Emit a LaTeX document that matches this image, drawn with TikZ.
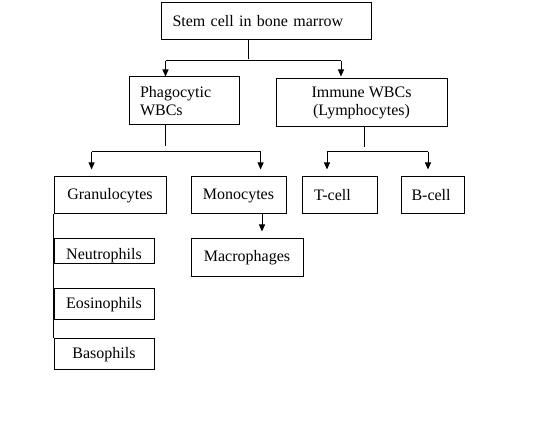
\documentclass[tikz,border=0pt]{standalone}
\usepackage{fontspec}
\setmainfont{Liberation Serif}
\usetikzlibrary{arrows.meta}
\begin{document}
\begin{tikzpicture}[x=1pt,y=-1pt,
  boxstyle/.style={draw, line width=1pt, inner sep=0pt, font=\fontsize{16}{18}\selectfont},
  lbl/.style={inner sep=0pt, font=\fontsize{16}{18}\selectfont},
  link/.style={line width=1pt},
  arrowlink/.style={line width=1pt,-{Triangle[width=6pt,length=7pt]}}]
\useasboundingbox[fill=white] (0,0) rectangle (549,427);

\node[boxstyle, minimum width=210pt, minimum height=37pt, text width=187pt, align=left] (stem) at (266,21.5) {Stem cell in bone marrow};
\node[boxstyle, minimum width=110pt, minimum height=48pt, text width=88pt, align=left] (phag) at (184,101) {Phagocytic\\WBCs};
\node[boxstyle, minimum width=171pt, minimum height=48pt, align=center] (immune) at (361.5,103) {Immune WBCs\\(Lymphocytes)};
\node[boxstyle, minimum width=112pt, minimum height=37pt] (gran) at (110,195.5) {Granulocytes};
\node[boxstyle, minimum width=95pt, minimum height=37pt] (mono) at (238.5,195.5) {Monocytes};
\node[boxstyle, minimum width=75pt, minimum height=37pt, text width=51pt, align=left] (tcell) at (339.5,195.5) {T-cell};
\node[boxstyle, minimum width=63pt, minimum height=37pt, text width=42pt, align=left] (bcell) at (432.5,195.5) {B-cell};
\node[boxstyle, minimum width=100pt, minimum height=25pt] (neut) at (104,251.5) {};
\node[lbl, anchor=base] (neuttext) at (104,260) {Neutrophils};
\node[boxstyle, minimum width=100pt, minimum height=31pt] (eos) at (104,304.5) {Eosinophils};
\node[boxstyle, minimum width=100pt, minimum height=31pt] (baso) at (104,354.5) {Basophils};
\node[boxstyle, minimum width=112pt, minimum height=38pt] (macro) at (247,258) {Macrophages};

\coordinate (s1) at (248,59);
\coordinate (hL) at (165.5,61);
\coordinate (hR) at (341,61);
\draw[link] (stem.south -| s1) -- (s1);
\draw[link] (hL) -- (hR);
\draw[arrowlink] (hL) -- (phag.north -| hL);
\draw[arrowlink, shorten >=2pt] (hR) -- (immune.north -| hR);

\coordinate (p1) at (165.5,146);
\coordinate (pL) at (91.6,152);
\coordinate (pR) at (260.6,152);
\draw[link] (phag.south -| p1) -- (p1);
\draw[link] (pL) -- (pR);
\draw[arrowlink, shorten >=7pt] (pL) -- (gran.north -| pL);
\draw[arrowlink, shorten >=7pt] (pR) -- (mono.north -| pR);

\coordinate (i1) at (364.5,147);
\coordinate (iL) at (327,152);
\coordinate (iR) at (428,152);
\draw[link] (immune.south -| i1) -- (i1);
\draw[link] (iL) -- (iR);
\draw[arrowlink, shorten >=7pt] (iL) -- (tcell.north -| iL);
\draw[arrowlink, shorten >=7pt] (iR) -- (bcell.north -| iR);

\coordinate (m1) at (262,230);
\draw[arrowlink, shorten >=7pt] (mono.south -| m1) -- (macro.north -| m1);

\draw[link] (gran.south west) -- (baso.north west);
\end{tikzpicture}
\end{document}
